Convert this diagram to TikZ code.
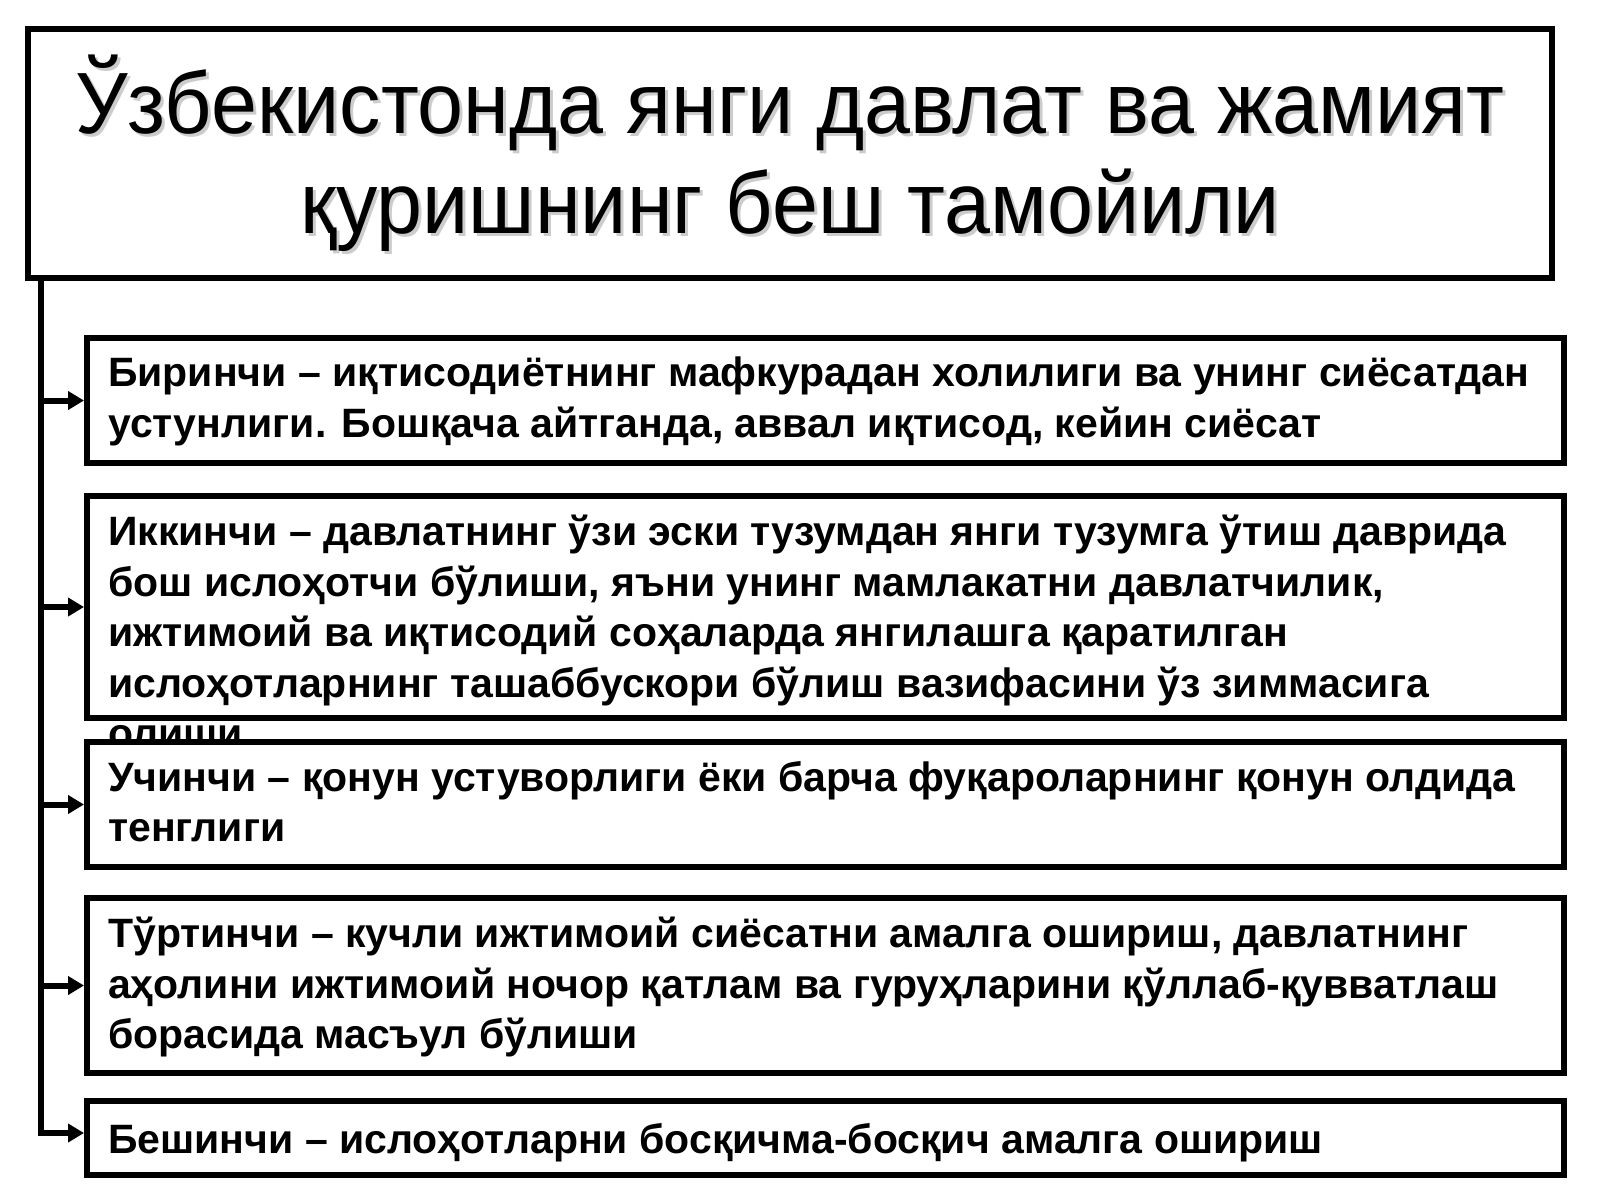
\documentclass[tikz,border=0pt]{standalone}
\usepackage{fontspec}
\setmainfont{Liberation Sans}
\newfontfamily\titlefont{Liberation Sans}[FakeStretch=0.95]
\usetikzlibrary{positioning, calc, arrows.meta}

\tikzset{
  frame/.style={draw, line width=6pt, fill=white, inner sep=0pt},
  heading/.style={inner sep=0pt, align=center,
                  font=\titlefont\fontsize{87}{100}\selectfont},
  point/.style={anchor=north west, inner sep=0pt, align=left,
                font=\bfseries\fontsize{41}{50.5}\selectfont,
                execute at begin node=\strut},
  link/.style={line width=6pt, -{Triangle[length=16pt,width=18pt]}}
}

\begin{document}
\begin{tikzpicture}[x=1pt, y=-1pt]
    \useasboundingbox (0,0) rectangle (1600,1200);

    \node[frame, minimum width=1524pt, minimum height=249pt] (title) at (790,153.5) {};
    \node[heading, black!20] (shade) at ($(title.center)+(3,3)$) {Ўзбекистонда янги давлат ва жамият\\қуришнинг беш тамойили};
    \node[heading] (head) at (title.center) {Ўзбекистонда янги давлат ва жамият\\қуришнинг беш тамойили};

    \node[frame, minimum width=1477pt, minimum height=125pt] (b1) at (825.5,400.5) {};
    \node[point] (t1) at ($(b1.north west)+(24,22)$) {Биринчи – иқтисодиётнинг мафкурадан холилиги ва унинг сиёсатдан\\устунлиги. Бошқача айтганда, аввал иқтисод, кейин сиёсат};

    \node[frame, minimum width=1477pt, minimum height=222pt] (b2) at (825.5,607) {};
    \node[point] (t2) at ($(b2.north west)+(24,22)$) {Иккинчи – давлатнинг ўзи эски тузумдан янги тузумга ўтиш даврида\\бош ислоҳотчи бўлиши, яъни унинг мамлакатни давлатчилик,\\ижтимоий ва иқтисодий соҳаларда янгилашга қаратилган\\ислоҳотларнинг ташаббускори бўлиш вазифасини ўз зиммасига\\олиши};

    \node[frame, minimum width=1477pt, minimum height=125pt] (b3) at (825.5,804.5) {};
    \node[point] (t3) at ($(b3.north west)+(24,22)$) {Учинчи – қонун устуворлиги ёки барча фуқароларнинг қонун олдида\\тенглиги};

    \node[frame, minimum width=1477pt, minimum height=175pt] (b4) at (825.5,985.5) {};
    \node[point] (t4) at ($(b4.north west)+(24,22)$) {Тўртинчи – кучли ижтимоий сиёсатни амалга ошириш, давлатнинг\\аҳолини ижтимоий ночор қатлам ва гуруҳларини қўллаб-қувватлаш\\борасида масъул бўлиши};

    \node[frame, minimum width=1477pt, minimum height=74pt] (b5) at (825.5,1138) {};
    \node[point] (t5) at ($(b5.north west)+(24,20)$) {Бешинчи – ислоҳотларни босқичма-босқич амалга ошириш};

    % trunk and arrows
    \coordinate (trunk) at ($(title.south west)+(16,0)$);
    \draw[link] (trunk) |- ([yshift=5pt]b5.west);
    \draw[link] (trunk |- b1.west) -- (b1.west);
    \draw[link] (trunk |- b2.west) -- (b2.west);
    \draw[link] (trunk |- b3.west) -- (b3.west);
    \draw[link] (trunk |- b4.west) -- (b4.west);
\end{tikzpicture}
\end{document}
